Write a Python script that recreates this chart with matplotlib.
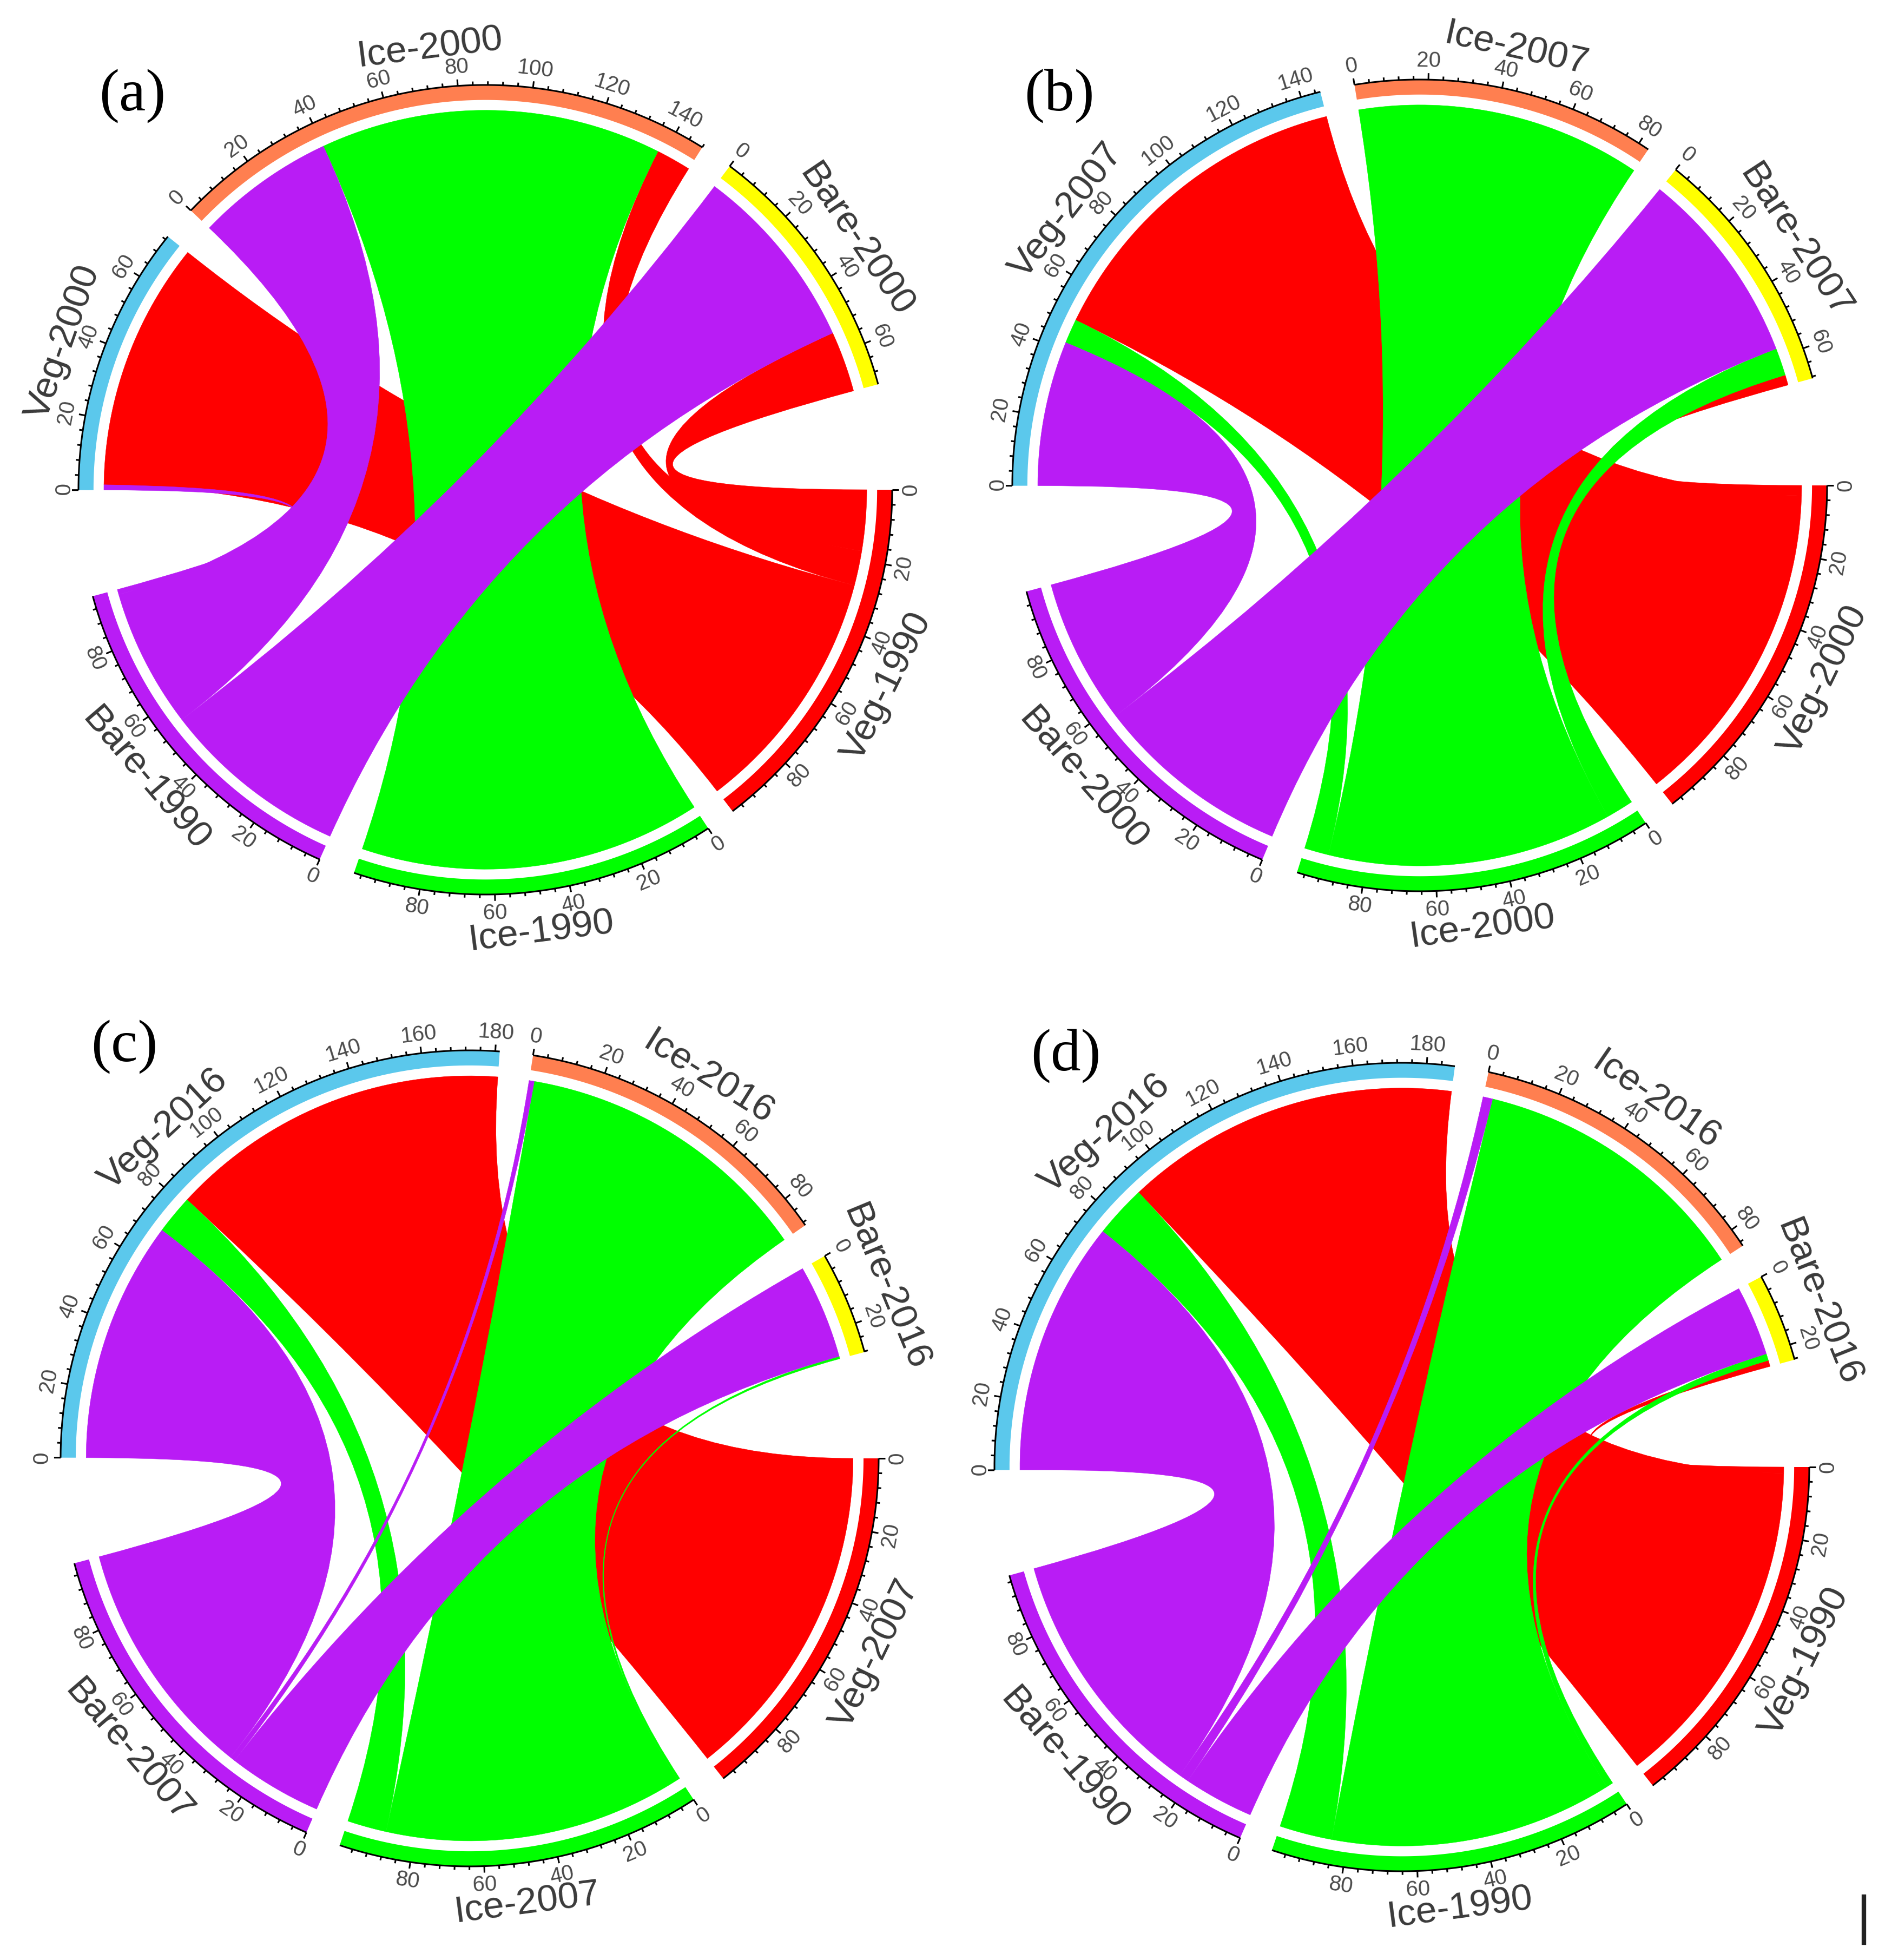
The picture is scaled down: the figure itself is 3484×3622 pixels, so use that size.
import numpy as np
import matplotlib
matplotlib.use('Agg')
import matplotlib.pyplot as plt
from matplotlib.path import Path
from matplotlib.patches import PathPatch
from matplotlib.lines import Line2D

W, H = 3484, 3622
DPI = 100

# flows: rows = earlier year (Veg, Ice, Bare), columns = later year (Veg, Ice, Bare)
a_matrix = [[71.5, 10.0, 17.5], [0.0, 98.0, 0.0], [1.5, 40.0, 54.0]]
b_matrix = [[96.0, 0.0, 3.0], [7.1, 83.0, 8.0], [42.3, 0.0, 57.5]]
c_matrix = [[99.5, 0.0, 0.0], [11.4, 87.5, 0.7], [70.3, 1.5, 27.5]]
d_matrix = [[97.8, 0.0, 1.8], [15.3, 82.5, 2.0], [74.5, 2.8, 20.5]]

a_names = ['Veg-1990', 'Ice-1990', 'Bare-1990', 'Veg-2000', 'Ice-2000', 'Bare-2000']
b_names = ['Veg-2000', 'Ice-2000', 'Bare-2000', 'Veg-2007', 'Ice-2007', 'Bare-2007']
c_names = ['Veg-2007', 'Ice-2007', 'Bare-2007', 'Veg-2016', 'Ice-2016', 'Bare-2016']
d_names = ['Veg-1990', 'Ice-1990', 'Bare-1990', 'Veg-2016', 'Ice-2016', 'Bare-2016']

# gap following each sector, degrees
a_gaps = [4.2, 5.2, 15.2, 4.9, 4.7, 15.1]
b_gaps = [4.6, 5.2, 15.1, 4.9, 4.8, 15.3]
c_gaps = [5.1, 5.0, 15.0, 4.7, 5.1, 15.1]
d_gaps = [4.5, 4.8, 15.1, 4.8, 5.1, 15.4]

# panel layout in pixels: label, cx, cy, rx, ry, label x, label y
panels = [
    ('(a)', a_names, a_matrix, a_gaps, 897, 905, 752, 748, 245, 178),
    ('(b)', b_names, b_matrix, b_gaps, 2624, 897, 753, 750, 1958, 178),
    ('(c)', c_names, c_matrix, c_gaps, 868, 2695, 756, 754, 230, 1935),
    ('(d)', d_names, d_matrix, d_gaps, 2591, 2711, 753, 747, 1970, 1952),
]

LINK_COLORS = ['#FF0000', '#00FF00', '#B91CF5']
TRACK_COLORS = ['#FF0000', '#00FF00', '#B91CF5', '#5BC8EC', '#FF7F50', '#FFFF00']
R_LINK, R_IN, R_OUT = 0.9375, 0.963, 1.0

fig = plt.figure(figsize=(W / DPI, H / DPI), dpi=DPI)
fig.patch.set_facecolor('white')


def pt(theta, r=1.0):
    t = np.radians(theta)
    return r * np.cos(t), -r * np.sin(t)


def upright(theta):
    rot = (90 - theta) % 360
    if rot > 180:
        rot -= 360
    if rot > 90:
        rot -= 180
    elif rot <= -90:
        rot += 180
    return rot


def ribbon(ax, a0, a1, b0, b1, color):
    arc1 = [pt(t, R_LINK) for t in np.linspace(a0, a1, 40)]
    arc2 = [pt(t, R_LINK) for t in np.linspace(b0, b1, 40)]
    verts = arc1 + [(0, 0), arc2[0]] + arc2[1:] + [(0, 0), arc1[0], arc1[0]]
    codes = ([Path.MOVETO] + [Path.LINETO] * 39 + [Path.CURVE3, Path.CURVE3]
             + [Path.LINETO] * 39 + [Path.CURVE3, Path.CURVE3, Path.CLOSEPOLY])
    ax.add_patch(PathPatch(Path(verts, codes), facecolor=color, edgecolor=color,
                           lw=0.4, zorder=2))


def chord(label, names, matrix, gaps, cx, cy, rx, ry, lx, ly):
    m = np.array(matrix, dtype=float)
    lim = 1.25
    ax = fig.add_axes([(cx - lim * rx) / W, 1 - (cy + lim * ry) / H,
                       2 * lim * rx / W, 2 * lim * ry / H])
    ax.set_xlim(-lim, lim)
    ax.set_ylim(-lim, lim)
    ax.axis('off')
    ax.patch.set_alpha(0)

    totals = list(m.sum(axis=1)) + list(m.sum(axis=0))
    per = (360 - sum(gaps)) / sum(totals)
    starts = []
    th = 0.0
    for tot, g in zip(totals, gaps):
        starts.append(th)
        th += tot * per + g

    # link positions inside each sector: other end in descending order
    src_pos = {}
    for i in range(3):
        p = 0.0
        for j in (2, 1, 0):
            src_pos[(i, j)] = p
            p += m[i, j]
    dst_pos = {}
    for j in range(3):
        p = 0.0
        for i in (2, 1, 0):
            dst_pos[(i, j)] = p
            p += m[i, j]

    for i in range(3):
        for j in range(3):
            v = m[i, j]
            if v <= 0:
                continue
            a0 = starts[i] + src_pos[(i, j)] * per
            b0 = starts[3 + j] + dst_pos[(i, j)] * per
            ribbon(ax, a0, a0 + v * per, b0, b0 + v * per, LINK_COLORS[i])

    for k, name in enumerate(names):
        s, tot = starts[k], totals[k]
        e = s + tot * per
        ts = np.linspace(s, e, 100)
        xy = [pt(t, R_OUT) for t in ts] + [pt(t, R_IN) for t in ts[::-1]]
        ax.fill(*zip(*xy), color=TRACK_COLORS[k], lw=0, zorder=3)
        ax.plot(*zip(*[pt(t, R_OUT) for t in ts]), color='black', lw=2.2, zorder=4,
                solid_capstyle='butt')
        for v in np.arange(0, tot + 1e-6, 4):
            t = s + v * per
            major = int(v) % 20 == 0
            rr = 1.016 if major else 1.009
            p0, p1 = pt(t, R_OUT), pt(t, rr)
            ax.plot([p0[0], p1[0]], [p0[1], p1[1]], color='black',
                    lw=2.2, zorder=4, solid_capstyle='butt')
            if major:
                x, y = pt(t, 1.046)
                ax.text(x, y, str(int(v)), fontsize=29, color='#4a4a4a',
                        family='Liberation Sans', ha='center', va='center',
                        rotation=upright(t), rotation_mode='anchor', zorder=5)
        mid = (s + e) / 2
        x, y = pt(mid, 1.10)
        ax.text(x, y, name, fontsize=50, color='#3a3a3a', family='Liberation Sans',
                ha='center', va='center', rotation=upright(mid),
                rotation_mode='anchor', zorder=6)

    fig.text(lx / W, 1 - ly / H, label, fontsize=80, family='Liberation Serif',
             color='black', ha='center', va='center')


for p in panels:
    chord(*p)

fig.add_artist(Line2D([3445 / W, 3445 / W], [1 - 3505 / H, 1 - 3590 / H],
                      color='#222222', lw=6, transform=fig.transFigure))

fig.savefig('out.png', dpi=DPI, facecolor='white')
